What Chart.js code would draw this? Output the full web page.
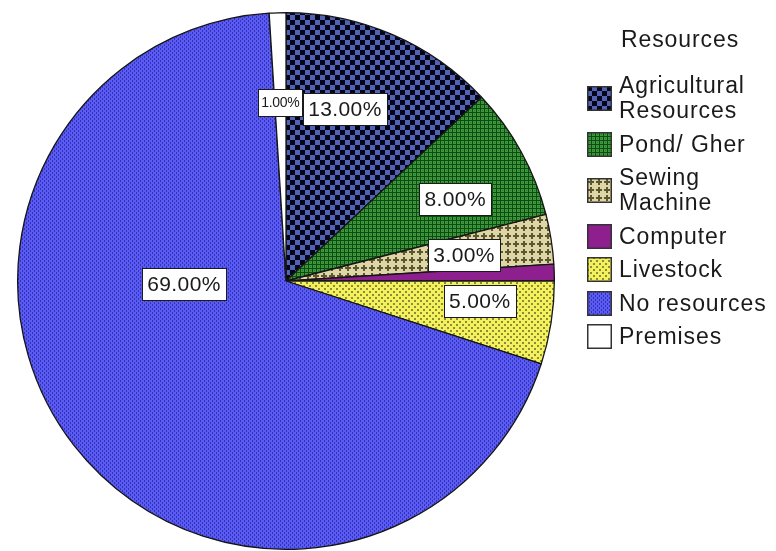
<!DOCTYPE html>
<html>
<head>
<meta charset="utf-8">
<script src="https://cdn.jsdelivr.net/npm/chart.js@4.4.1/dist/chart.umd.min.js"></script>
<style>
  html, body { margin: 0; padding: 0; background: #ffffff; }
  #wrap { position: relative; width: 776px; height: 551px; overflow: hidden; background: #fff; }
  #chart { position: absolute; left: 0; top: 0; }
  #legendTitle { position: absolute; left: 621px; top: 27px; font-family: "Liberation Sans", Arial, sans-serif;
    font-size: 23px; line-height: 25px; letter-spacing: 0.9px; color: #1a1a1a; white-space: nowrap; }
  #legend { position: absolute; left: 587px; top: 73px; font-family: "Liberation Sans", Arial, sans-serif;
    font-size: 23px; line-height: 25px; letter-spacing: 0.9px; color: #1a1a1a; }
  .item { display: flex; align-items: center; margin-bottom: 8.5px; }
  .item canvas { flex: 0 0 auto; margin-right: 7px; }
  .item span { white-space: pre-line; }
</style>
</head>
<body>
<div id="wrap">
  <canvas id="chart" width="776" height="551"></canvas>
  <div id="legendTitle"></div>
  <div id="legend"></div>
</div>
<script>
// ---- Data ----
const legendTitle = 'Resources';
const categories = ['Agricultural\nResources', 'Pond/ Gher', 'Sewing\nMachine', 'Computer', 'Livestock', 'No resources', 'Premises'];
const percentages = [13, 8, 3, 1, 5, 69, 1];

// ---- Label placement relative to each slice (angle shift in degrees, radius fraction) ----
const labelPlacement = [
  { shift: -4.5, frac: 0.676, size: 21 },
  { shift: 2.9, frac: 0.70, size: 21 },
  { shift: 0.7, frac: 0.67, size: 21 },
  null,
  { shift: -3.1, frac: 0.725, size: 21 },
  { shift: 36.1, frac: 0.381, size: 21 },
  { shift: 0, frac: 0.666, size: 14 }
];

// ---- Patterns ----
function makePattern(w, h, bg, draw) {
  const c = document.createElement('canvas');
  c.width = w; c.height = h;
  const g = c.getContext('2d');
  g.fillStyle = bg; g.fillRect(0, 0, w, h);
  if (draw) draw(g);
  return g.createPattern(c, 'repeat');
}
const fills = [
  // Agricultural: checkerboard
  makePattern(10, 10, '#5363b4', g => { g.fillStyle = '#05051a'; g.fillRect(0, 0, 5, 5); g.fillRect(5, 5, 5, 5); }),
  // Pond: green with dark grid dots
  makePattern(4, 4, '#3c9a3c', g => { g.fillStyle = '#0f4a12'; g.fillRect(0, 0, 4, 1); g.fillRect(0, 0, 1, 4); g.fillStyle = '#2a7a2a'; g.fillRect(2, 2, 1, 1); }),
  // Sewing: beige with crosses
  makePattern(8, 8, '#ddd6a6', g => { g.fillStyle = '#5e5630'; g.fillRect(3, 1, 2, 6); g.fillRect(1, 3, 6, 2); }),
  // Computer: purple
  '#8e1f8e',
  // Livestock: yellow with olive dots
  makePattern(6, 6, '#f3f25c', g => { g.fillStyle = '#8d8b3a'; g.fillRect(0, 0, 2, 2); g.fillRect(3, 3, 2, 2); }),
  // No resources: blue with dark dots
  makePattern(4, 4, '#5a5af4', g => { g.fillStyle = '#3333b4'; g.fillRect(0, 0, 1, 2); g.fillRect(2, 2, 1, 2); }),
  // Premises: white
  '#ffffff'
];

// ---- Slice labels plugin ----
const sliceLabels = {
  id: 'sliceLabels',
  afterDatasetsDraw(chart) {
    const ctx = chart.ctx;
    const meta = chart.getDatasetMeta(0);
    meta.data.forEach((arc, i) => {
      const p = labelPlacement[i];
      if (!p) return;
      const mid = (arc.startAngle + arc.endAngle) / 2 + p.shift * Math.PI / 180;
      const r = arc.outerRadius * p.frac;
      const x = arc.x + Math.cos(mid) * r;
      const y = arc.y + Math.sin(mid) * r;
      const text = percentages[i].toFixed(2) + '%';
      ctx.save();
      ctx.font = p.size + 'px "Liberation Sans", Arial, sans-serif';
      if (p.size > 16) { try { ctx.letterSpacing = '0.4px'; } catch (e) {} }
      else { try { ctx.letterSpacing = '-0.3px'; } catch (e) {} }
      const tw = ctx.measureText(text).width;
      const bw = Math.round(tw + (p.size > 16 ? 10 : 6));
      const bh = p.size > 16 ? 32 : 27;
      const bx = Math.round(x - bw / 2) + 0.5;
      const by = Math.round(y - bh / 2) + 0.5;
      ctx.fillStyle = '#ffffff';
      ctx.fillRect(bx, by, bw, bh);
      ctx.strokeStyle = '#1a1a1a';
      ctx.lineWidth = 1;
      ctx.strokeRect(bx, by, bw, bh);
      ctx.fillStyle = '#1a1a1a';
      ctx.textAlign = 'center';
      ctx.textBaseline = 'middle';
      ctx.fillText(text, x + (p.size > 16 ? 0.2 : 0), y + 1);
      ctx.restore();
    });
  }
};

const chart = new Chart(document.getElementById('chart'), {
  type: 'pie',
  data: {
    labels: categories,
    datasets: [{
      data: percentages,
      backgroundColor: fills,
      borderColor: '#151515',
      borderWidth: 1.3
    }]
  },
  options: {
    responsive: false,
    animation: false,
    events: [],
    layout: { padding: { left: 17, top: 12, right: 221, bottom: 1 } },
    plugins: { legend: { display: false }, tooltip: { enabled: false } }
  },
  plugins: [sliceLabels]
});

// ---- HTML legend built from the same data ----
document.getElementById('legendTitle').textContent = legendTitle;
const legendEl = document.getElementById('legend');
categories.forEach((name, i) => {
  const item = document.createElement('div');
  item.className = 'item';
  const sw = document.createElement('canvas');
  sw.width = 25; sw.height = 25;
  const g = sw.getContext('2d');
  g.fillStyle = fills[i];
  g.fillRect(0, 0, 25, 25);
  g.strokeStyle = '#333';
  g.lineWidth = 1.5;
  g.strokeRect(0.75, 0.75, 23.5, 23.5);
  const label = document.createElement('span');
  label.textContent = name;
  item.appendChild(sw);
  item.appendChild(label);
  legendEl.appendChild(item);
});
</script>
</body>
</html>
